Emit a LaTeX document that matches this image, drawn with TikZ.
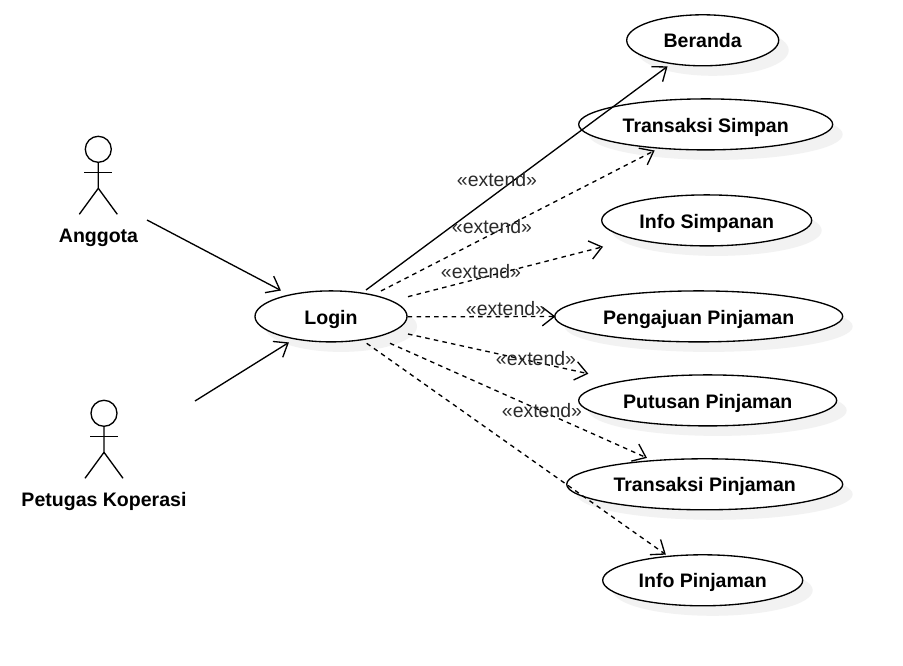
\documentclass[tikz,border=0pt]{standalone}
\usepackage{fontspec}
\setmainfont{Liberation Sans}
\usetikzlibrary{arrows.meta,shapes.geometric}
\definecolor{shcol}{HTML}{F2F2F2}
\definecolor{txtgray}{HTML}{2B2B2B}
\tikzset{
  uc/.style={shape=ellipse,draw=black,fill=white,line width=1pt,inner sep=0pt,font=\fontsize{14.65}{18}\selectfont\bfseries,text height=14.5pt,text depth=3pt},
  shadowell/.style={fill=shcol,draw=none},
  conn/.style={line width=1pt,shorten >=-0.8pt,-{Straight Barb[length=9pt,width=14pt,line width=1pt]}},
  ext/.style={conn,dash pattern=on 3.4pt off 3.2pt},
  extlabel/.style={font=\fontsize{14.6}{17}\selectfont,text=txtgray,inner sep=0pt},
  actorlabel/.style={font=\fontsize{14.65}{18}\selectfont\bfseries,inner sep=0pt,text height=12pt,text depth=3pt},
  actorline/.style={line width=1pt,draw=black}
}
\newcommand{\ucnode}[5]{%
  \fill[shadowell] (#2+10,#3+10) ellipse [x radius=#4,y radius=25.5];
  \node[uc,minimum width=#4*1.5pt,minimum height=38.25pt] (#1) at (#2,#3) {#5};}
\newcommand{\actorfig}[3]{%
  \draw[actorline] (#2,#3) circle [radius=13];
  \coordinate (#1) at (#2,#3);
  \draw[actorline] (#2,#3+13) -- (#2,#3+39) -- (#2-19,#3+65);
  \draw[actorline] (#2,#3+39) -- (#2+19,#3+65);
  \draw[actorline] (#2-14,#3+23) -- (#2+14,#3+23);}
\begin{document}
\begin{tikzpicture}[x=0.75pt,y=-0.75pt]
\useasboundingbox (0,0) rectangle (903,666);
\fill[white] (0,0) rectangle (903,666);
\ucnode{login}{331}{316.4}{76}{Login}
\ucnode{beranda}{702.7}{40.3}{76}{Beranda}
\ucnode{tsimpan}{705.7}{124.4}{127}{Transaksi Simpan}
\ucnode{isimpan}{706.7}{220.4}{105}{Info Simpanan}
\ucnode{pengajuan}{698.7}{316.4}{144}{Pengajuan Pinjaman}
\ucnode{putusan}{707.7}{400.4}{129}{Putusan Pinjaman}
\ucnode{tpinjam}{704.7}{484.3}{138}{Transaksi Pinjaman}
\ucnode{ipinjam}{702.7}{580.3}{100}{Info Pinjaman}
\actorfig{anggota}{98.3}{149.3}
\actorfig{petugas}{104}{413.3}
\node[actorlabel] (lblA) at (98.5,237) {Anggota};
\node[actorlabel] (lblP) at (104,500.5) {Petugas Koperasi};
\draw[conn] ([shift={(48.7,70.7)}]anggota) -- ([shift={(-51,-26.4)}]login.center);
\draw[conn] ([shift={(91,-12.3)}]petugas) -- ([shift={(-43,26.6)}]login.center);
\draw[conn] ([shift={(35,-26.4)}]login.center) -- ([shift={(-36,26.7)}]beranda.center);
\draw[ext] ([shift={(50,-25.4)}]login.center) -- ([shift={(-52,26.6)}]tsimpan.center);
\draw[ext] ([shift={(77,-19.7)}]login.center) -- ([shift={(-104.7,26.6)}]isimpan.center);
\draw[ext] ([shift={(76.7,0.4)}]login.center) -- ([shift={(-144.4,0.1)}]pengajuan.center);
\draw[ext] ([shift={(77,17.6)}]login.center) -- ([shift={(-120.4,-26.9)}]putusan.center);
\draw[ext] ([shift={(59,26.9)}]login.center) -- ([shift={(-58.7,-26.8)}]tpinjam.center);
\draw[ext] ([shift={(35.7,26.9)}]login.center) -- ([shift={(-37.7,-26.3)}]ipinjam.center);
\node[extlabel] (e1) at (497,180) {«extend»};
\node[extlabel] (e2) at (492,227) {«extend»};
\node[extlabel] (e3) at (481,272) {«extend»};
\node[extlabel] (e4) at (506,309) {«extend»};
\node[extlabel] (e5) at (536,359) {«extend»};
\node[extlabel] (e6) at (542,411) {«extend»};
\end{tikzpicture}
\end{document}
